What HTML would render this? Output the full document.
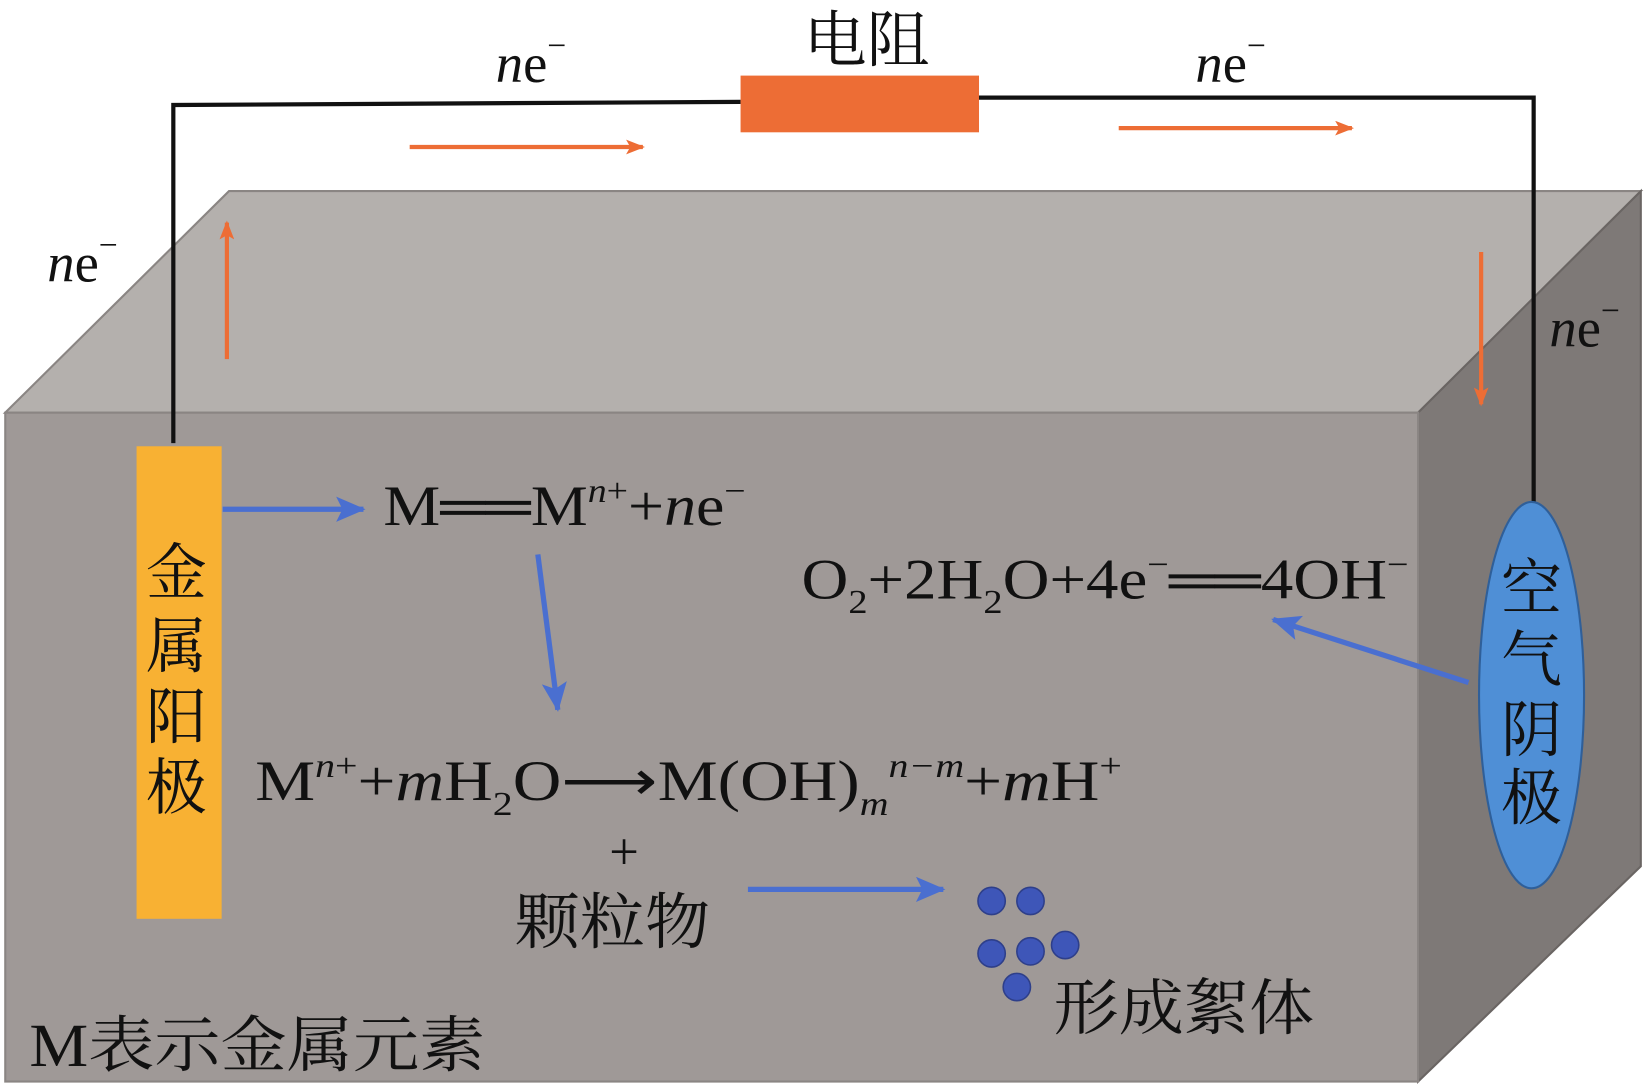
<!DOCTYPE html>
<html><head><meta charset="utf-8"><style>
html,body{margin:0;padding:0;background:#fff;}
svg{display:block;}
text{font-family:"Liberation Serif","Noto Serif CJK SC","Noto Sans CJK SC",serif;fill:#111;}
</style></head><body>
<svg width="1645" height="1091" viewBox="0 0 1566 1039" preserveAspectRatio="none" xmlns="http://www.w3.org/2000/svg">
<defs>
<marker id="ab" markerWidth="30" markerHeight="24" refX="26" refY="12" orient="auto" markerUnits="userSpaceOnUse"><path d="M0,0 L28,12 L0,24 L6,12 Z" fill="#4a6fd0"/></marker>
<marker id="ao2" markerWidth="18" markerHeight="14" refX="16" refY="7" orient="auto" markerUnits="userSpaceOnUse"><path d="M0,0 L18,7 L0,14 L4,7 Z" fill="#ed6d35"/></marker>
</defs>
<polygon points="5,393 218,182 1562,182 1350,393" fill="#b4b0ad" stroke="#8a8583" stroke-width="2"/>
<polygon points="1350,393 1562,182 1562,825 1350,1030" fill="#7e7977" stroke="#6a6563" stroke-width="2"/>
<rect x="5" y="393" width="1345" height="637" fill="#9f9997" stroke="#8a8583" stroke-width="2"/>
<polyline points="165,422 165,100 705,97" fill="none" stroke="#111" stroke-width="4"/>
<polyline points="932,93 1460,93 1460,480" fill="none" stroke="#111" stroke-width="4"/>
<rect x="705" y="72" width="227" height="54" fill="#ed6d35"/>
<rect x="130" y="425" width="81" height="450" fill="#f8b133"/>
<ellipse cx="1458" cy="662" rx="50" ry="184" fill="#4f8fd6" stroke="#2f5f99" stroke-width="2"/>
<line x1="390" y1="140" x2="612" y2="140" stroke="#ed6d35" stroke-width="4" marker-end="url(#ao2)"/>
<line x1="1065" y1="122" x2="1287" y2="122" stroke="#ed6d35" stroke-width="4" marker-end="url(#ao2)"/>
<line x1="216" y1="342" x2="216" y2="212" stroke="#ed6d35" stroke-width="4" marker-end="url(#ao2)"/>
<line x1="1410" y1="240" x2="1410" y2="385" stroke="#ed6d35" stroke-width="4" marker-end="url(#ao2)"/>
<line x1="212" y1="485" x2="346" y2="485" stroke="#4a6fd0" stroke-width="5" marker-end="url(#ab)"/>
<line x1="512" y1="528" x2="531" y2="676" stroke="#4a6fd0" stroke-width="5" marker-end="url(#ab)"/>
<line x1="1398" y1="650" x2="1212" y2="590" stroke="#4a6fd0" stroke-width="5" marker-end="url(#ab)"/>
<line x1="712" y1="847" x2="898" y2="847" stroke="#4a6fd0" stroke-width="5" marker-end="url(#ab)"/>
<g fill="#3e56b8" stroke="#2e3f8a" stroke-width="1.5">
<circle cx="944" cy="858" r="13"/><circle cx="981" cy="858" r="13"/>
<circle cx="944" cy="908" r="13"/><circle cx="981" cy="906" r="13"/>
<circle cx="1014" cy="900" r="13"/><circle cx="968" cy="940" r="13"/>
</g>
<text x="765" y="58" font-size="58" textLength="120" lengthAdjust="spacingAndGlyphs">电阻</text>
<text x="472" y="78" font-size="52"><tspan font-style="italic">n</tspan>e<tspan font-size="32" dy="-24">−</tspan></text>
<text x="1138" y="78" font-size="52"><tspan font-style="italic">n</tspan>e<tspan font-size="32" dy="-24">−</tspan></text>
<text x="45" y="268" font-size="52"><tspan font-style="italic">n</tspan>e<tspan font-size="32" dy="-24">−</tspan></text>
<text x="1475" y="330" font-size="52"><tspan font-style="italic">n</tspan>e<tspan font-size="32" dy="-24">−</tspan></text>
<g font-size="58">
<text x="139" y="565">金</text><text x="139" y="635">属</text><text x="139" y="703">阳</text><text x="139" y="770">极</text>
<text x="1429" y="580">空</text><text x="1429" y="648">气</text><text x="1429" y="715">阴</text><text x="1429" y="780">极</text>
</g>
<text x="365" y="500" font-size="54" textLength="345" lengthAdjust="spacingAndGlyphs">M══M<tspan font-size="32" dy="-22" font-style="italic">n</tspan><tspan font-size="32">+</tspan><tspan dy="22">+</tspan><tspan font-style="italic">n</tspan>e<tspan font-size="32" dy="-22">−</tspan></text>
<text x="763" y="570" font-size="54" textLength="578" lengthAdjust="spacingAndGlyphs">O<tspan font-size="32" dy="14">2</tspan><tspan dy="-14">+2H</tspan><tspan font-size="32" dy="14">2</tspan><tspan dy="-14">O+4e</tspan><tspan font-size="32" dy="-22">−</tspan><tspan dy="22">══4OH</tspan><tspan font-size="32" dy="-22">−</tspan></text>
<text x="243" y="762" font-size="54" textLength="825" lengthAdjust="spacingAndGlyphs">M<tspan font-size="32" dy="-22" font-style="italic">n</tspan><tspan font-size="32">+</tspan><tspan dy="22">+</tspan><tspan font-style="italic">m</tspan>H<tspan font-size="32" dy="14">2</tspan><tspan dy="-14">O⟶M(OH)</tspan><tspan font-size="32" dy="14" font-style="italic">m</tspan><tspan font-size="32" dy="-36" font-style="italic">n−m</tspan><tspan dy="22">+</tspan><tspan font-style="italic">m</tspan>H<tspan font-size="32" dy="-22">+</tspan></text>
<text x="580" y="828" font-size="50">+</text>
<text x="490" y="898" font-size="58" textLength="186" lengthAdjust="spacingAndGlyphs">颗粒物</text>
<text x="1003" y="980" font-size="58" textLength="248" lengthAdjust="spacingAndGlyphs">形成絮体</text>
<text x="28" y="1015" font-size="58" textLength="434" lengthAdjust="spacingAndGlyphs">M表示金属元素</text>
</svg>
</body></html>
